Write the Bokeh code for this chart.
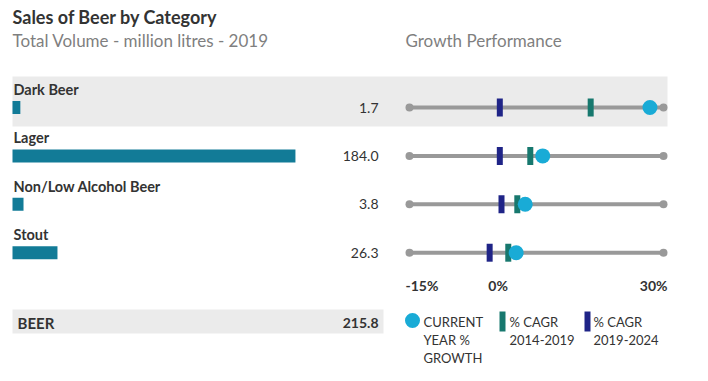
from bokeh.plotting import figure
from bokeh.models import Range1d
from bokeh.core.properties import value
from bokeh.embed import file_html
from bokeh.resources import INLINE

# ---- data ----
categories = ["Dark Beer", "Lager", "Non/Low Alcohol Beer", "Stout"]
volume = [1.7, 184.0, 3.8, 26.3]
current_growth = [27.6, 8.6, 5.5, 3.9]
cagr_2014_2019 = [17.1, 6.4, 4.1, 2.5]
cagr_2019_2024 = [1.0, 1.0, 1.3, -0.8]
total_label = "BEER"
total_volume = 215.8
growth_ticks = [-15, 0, 30]
growth_tick_labels = ["-15%", "0%", "30%"]
title = "Sales of Beer by Category"
subtitle = "Total Volume - million litres - 2019"
growth_title = "Growth Performance"
legend_labels = [["CURRENT", "YEAR %", "GROWTH"], ["% CAGR", "2014-2019"], ["% CAGR", "2019-2024"]]

# ---- style ----
FONT = value("Lato")
TXT = "#333333"
SUB = "#7f7f7f"
BAR = "#127b97"
CIRC = "#19abd6"
GREEN = "#17786e"
NAVY = "#1f2487"
LINE = "#999999"
BAND = "#ebebeb"

W, H = 692, 365
p = figure(width=W, height=H, output_backend="svg", toolbar_location=None,
           x_range=Range1d(0, W), y_range=Range1d(H, 0),
           min_border=0, min_border_left=0, min_border_right=0,
           min_border_top=0, min_border_bottom=0)
p.axis.visible = False
p.grid.visible = False
p.outline_line_color = None
p.background_fill_color = "white"
p.border_fill_color = "white"

# extra ranges: volume and growth
vol_px = 1.509
vol_left = -3.5  # value at x=12
p.extra_x_ranges = {
    "vol": Range1d(vol_left - 12 / vol_px, vol_left + (W - 12) / vol_px),
}
g_x0, g_x1 = 409, 663
g_px = (g_x1 - g_x0) / (growth_ticks[-1] - growth_ticks[0])
p.extra_x_ranges["growth"] = Range1d(growth_ticks[0] - g_x0 / g_px,
                                     growth_ticks[-1] + (W - g_x1) / g_px)

n = len(categories)
row_y = [107 + i * 48.4 for i in range(n)]
label_y = [y - 18 for y in row_y]

# bands
p.quad(left=12, right=667, top=76, bottom=126, fill_color=BAND, line_color=None)
p.quad(left=12, right=383, top=309, bottom=333, fill_color=BAND, line_color=None)

# titles
p.text(x=[12], y=[16], text=[title], text_font=FONT, text_font_style="bold",
       text_font_size="18px", text_color=TXT, text_baseline="middle")
p.text(x=[12], y=[40], text=[subtitle], text_font=FONT,
       text_font_size="17px", text_color=SUB, text_baseline="middle")
p.text(x=[405], y=[40], text=[growth_title], text_font=FONT,
       text_font_size="17px", text_color=SUB, text_baseline="middle")

# category labels and bars
p.text(x=[13] * n, y=label_y, text=categories, text_font=FONT, text_font_style="bold",
       text_font_size="14.5px", text_color=TXT, text_baseline="middle")
p.hbar(y=row_y, left=vol_left, right=volume, height=13, x_range_name="vol",
       fill_color=BAR, line_color=None)
p.text(x=[378] * n, y=row_y, text=[f"{v:.1f}" for v in volume], text_font=FONT,
       text_font_size="14px", text_color=TXT, text_baseline="middle", text_align="right")

# total row
p.text(x=[17], y=[322], text=[total_label], text_font=FONT, text_font_style="bold",
       text_font_size="15px", text_color=TXT, text_baseline="middle")
p.text(x=[378], y=[322], text=[f"{total_volume:.1f}"], text_font=FONT, text_font_style="bold",
       text_font_size="14px", text_color=TXT, text_baseline="middle", text_align="right")

# growth dumbbells
gmin, gmax = growth_ticks[0], growth_ticks[-1]
p.segment(x0=[gmin] * n, x1=[gmax] * n, y0=row_y, y1=row_y, x_range_name="growth",
          line_color=LINE, line_width=4)
p.scatter(x=[gmin] * n + [gmax] * n, y=row_y + row_y, size=8, x_range_name="growth",
          fill_color=LINE, line_color=None)
p.rect(x=cagr_2019_2024, y=row_y, width=6, height=18, width_units="screen",
       height_units="screen", x_range_name="growth", fill_color=NAVY, line_color=None)
p.rect(x=cagr_2014_2019, y=row_y, width=6, height=18, width_units="screen",
       height_units="screen", x_range_name="growth", fill_color=GREEN, line_color=None)
p.scatter(x=current_growth, y=row_y, size=15, x_range_name="growth",
          fill_color=CIRC, line_color=None)

# growth axis labels
aligns = ["left", "center", "right"]
offsets = [-4, 4, 4]
for t, lab, al, off in zip(growth_ticks, growth_tick_labels, aligns, offsets):
    p.text(x=[t], y=[285], text=[lab], x_range_name="growth", x_offset=off,
           text_font=FONT, text_font_style="bold", text_font_size="14px",
           text_color=TXT, text_baseline="middle", text_align=al)

# legend
p.scatter(x=[412], y=[320], size=15, fill_color=CIRC, line_color=None)
p.quad(left=499, right=505, top=311, bottom=331, fill_color=GREEN, line_color=None)
p.quad(left=584, right=590, top=311, bottom=331, fill_color=NAVY, line_color=None)
leg_x = [423, 509, 593]
for lx, lines in zip(leg_x, legend_labels):
    p.text(x=[lx] * len(lines), y=[321 + 18 * i for i in range(len(lines))], text=lines,
           text_font=FONT, text_font_size="13px", text_color=TXT, text_baseline="middle")

open("out.html", "w").write(file_html(p, INLINE))
